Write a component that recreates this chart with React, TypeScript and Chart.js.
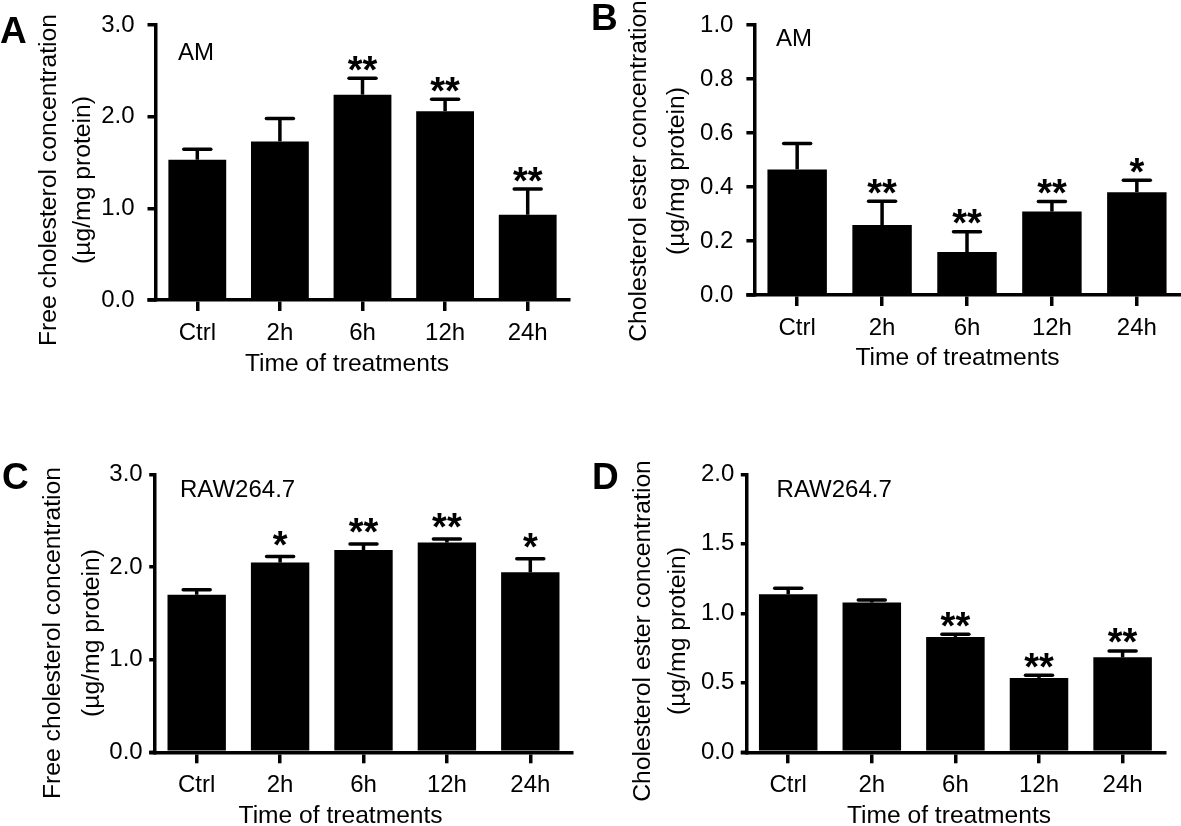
import React, { useEffect, useRef } from "react";
import { Chart, registerables } from "chart.js";

Chart.register(...registerables);

const FONT = '"Liberation Sans", Arial, Helvetica, sans-serif';

// ---------------- data ----------------
const categories = ["Ctrl", "2h", "6h", "12h", "24h"];
const xTitle = "Time of treatments";

const freeAM = [1.53, 1.73, 2.24, 2.06, 0.93];
const freeAMSem = [0.115, 0.25, 0.18, 0.13, 0.28];
const freeAMStars = ["", "", "**", "**", "**"];

const esterAM = [0.465, 0.259, 0.159, 0.309, 0.381];
const esterAMSem = [0.096, 0.088, 0.075, 0.037, 0.044];
const esterAMStars = ["", "**", "**", "**", "*"];

const freeRAW = [1.7, 2.047, 2.183, 2.263, 1.942];
const freeRAWSem = [0.054, 0.065, 0.065, 0.039, 0.148];
const freeRAWStars = ["", "*", "**", "**", "*"];

const esterRAW = [1.137, 1.077, 0.83, 0.535, 0.683];
const esterRAWSem = [0.043, 0.019, 0.019, 0.019, 0.046];
const esterRAWStars = ["", "", "**", "**", "**"];

const yTicksFree = [0, 1, 2, 3];
const yTicksEsterAM = [0, 0.2, 0.4, 0.6, 0.8, 1.0];
const yTicksEsterRAW = [0, 0.5, 1.0, 1.5, 2.0];

const yTitleFree = ["Free cholesterol concentration", "(µg/mg protein)"];
const yTitleEster = ["Cholesterol ester concentration", "(µg/mg protein)"];

// ---------------- layout (styles only) ----------------
type PanelCfg = {
  letter: string;
  inset: string;
  values: number[];
  sem: number[];
  stars: string[];
  ticks: number[];
  yTitle: string[];
  x: number;
  y: number;
  w: number;
  h: number;
  area: { l: number; t: number; r: number; b: number };
  yTickLen: number;
  yTickPad: number;
  letterPos: [number, number];
  insetPos: [number, number];
  yTitleX: [number, number];
  yTitleY: number;
  xTitlePos: [number, number];
  starGap: number;
};

const panels: PanelCfg[] = [
  {
    letter: "A", inset: "AM", values: freeAM, sem: freeAMSem, stars: freeAMStars,
    ticks: yTicksFree, yTitle: yTitleFree,
    x: 0, y: 0, w: 590, h: 420,
    area: { l: 156, t: 24, r: 569, b: 300 },
    yTickLen: 8.5, yTickPad: 13,
    letterPos: [0, 43], insetPos: [178, 60],
    yTitleX: [49, 83.4], yTitleY: 180, xTitlePos: [347, 364], starGap: 15,
  },
  {
    letter: "B", inset: "AM", values: esterAM, sem: esterAMSem, stars: esterAMStars,
    ticks: yTicksEsterAM, yTitle: yTitleEster,
    x: 590, y: 0, w: 591, h: 420,
    area: { l: 164.7, t: 12.3, r: 589.3, b: 295 },
    yTickLen: 8.3, yTickPad: 13,
    letterPos: [1, 30], insetPos: [186, 46],
    yTitleX: [49, 86.7], yTitleY: 171, xTitlePos: [367.5, 358], starGap: 15,
  },
  {
    letter: "C", inset: "RAW264.7", values: freeRAW, sem: freeRAWSem, stars: freeRAWStars,
    ticks: yTicksFree, yTitle: yTitleFree,
    x: 0, y: 420, w: 590, h: 406,
    area: { l: 155, t: 54.3, r: 572, b: 332.3 },
    yTickLen: 5.8, yTickPad: 6.5,
    letterPos: [2, 69], insetPos: [180, 77],
    yTitleX: [53.6, 91.8], yTitleY: 213, xTitlePos: [340.6, 396.7], starGap: 18,
  },
  {
    letter: "D", inset: "RAW264.7", values: esterRAW, sem: esterRAWSem, stars: esterRAWStars,
    ticks: yTicksEsterRAW, yTitle: yTitleEster,
    x: 590, y: 420, w: 591, h: 406,
    area: { l: 156.4, t: 54.3, r: 574.4, b: 332.3 },
    yTickLen: 5.6, yTickPad: 6.5,
    letterPos: [2, 69], insetPos: [186.6, 77],
    yTitleX: [52.8, 88.6], yTitleY: 211, xTitlePos: [359, 396.7], starGap: 15,
  },
];

const LW = 3.5;

function overlayPlugin(p: PanelCfg) {
  return {
    id: "overlay" + p.letter,
    afterDraw(chart: any) {
      const ctx: CanvasRenderingContext2D = chart.ctx;
      const ys = chart.scales.y;
      const area = chart.chartArea;
      const meta = chart.getDatasetMeta(0);
      ctx.save();
      ctx.fillStyle = "#000";
      ctx.strokeStyle = "#000";
      ctx.lineWidth = LW;

      // x-axis extension to the left of the y axis
      ctx.lineCap = "butt";
      ctx.beginPath();
      ctx.moveTo(area.left - p.yTickLen, area.bottom);
      ctx.lineTo(area.left, area.bottom);
      ctx.stroke();

      // error bars + significance stars
      meta.data.forEach((bar: any, i: number) => {
        const x = bar.x;
        const y0 = ys.getPixelForValue(p.values[i]);
        const y1 = ys.getPixelForValue(p.values[i] + p.sem[i]);
        ctx.lineCap = "butt";
        ctx.beginPath();
        ctx.moveTo(x, y0);
        ctx.lineTo(x, y1);
        ctx.stroke();
        ctx.lineCap = "round";
        ctx.beginPath();
        ctx.moveTo(x - 13.5, y1);
        ctx.lineTo(x + 13.5, y1);
        ctx.stroke();
        if (p.stars[i]) {
          ctx.font = `bold 38px ${FONT}`;
          ctx.textAlign = "center";
          ctx.textBaseline = "alphabetic";
          const m = ctx.measureText(p.stars[i]);
          const asc = m.actualBoundingBoxAscent;
          const desc = m.actualBoundingBoxDescent;
          const cy = y1 - p.starGap;
          const base = cy + (asc - desc) / 2;
          ctx.fillText(p.stars[i], x, base);
        }
      });

      // panel letter
      ctx.font = `bold 37px ${FONT}`;
      ctx.textAlign = "left";
      ctx.textBaseline = "alphabetic";
      ctx.fillText(p.letter, p.letterPos[0], p.letterPos[1]);

      // inset label
      ctx.font = `24px ${FONT}`;
      ctx.fillText(p.inset, p.insetPos[0], p.insetPos[1]);

      // x title
      ctx.font = `24.6px ${FONT}`;
      ctx.textAlign = "center";
      ctx.textBaseline = "middle";
      ctx.fillText(xTitle, p.xTitlePos[0], p.xTitlePos[1]);

      // y title (two lines, rotated)
      p.yTitle.forEach((line, k) => {
        ctx.save();
        ctx.translate(p.yTitleX[k], p.yTitleY);
        ctx.rotate(-Math.PI / 2);
        ctx.font = `24.7px ${FONT}`;
        ctx.textAlign = "center";
        ctx.textBaseline = "middle";
        ctx.fillText(line, 0, 0);
        ctx.restore();
      });
      ctx.restore();
    },
  };
}

function Panel({ p }: { p: PanelCfg }) {
  const ref = useRef<HTMLCanvasElement>(null);
  useEffect(() => {
    if (!ref.current) return;
    const chart = new Chart(ref.current, {
      type: "bar",
      data: {
        labels: categories,
        datasets: [
          {
            data: p.values,
            backgroundColor: "#000",
            borderWidth: 0,
            barPercentage: 0.7,
            categoryPercentage: 1,
          },
        ],
      },
      options: {
        responsive: false,
        animation: false,
        devicePixelRatio: 1,
        layout: { padding: { left: 0, top: p.area.t, right: p.w - p.area.r, bottom: 0 } },
        plugins: {
          legend: { display: false },
          tooltip: { enabled: false },
          title: { display: false },
        },
        scales: {
          x: {
            type: "category",
            offset: true,
            grid: {
              display: true,
              offset: false,
              drawOnChartArea: false,
              drawTicks: true,
              tickLength: 11,
              tickWidth: LW,
              lineWidth: LW,
              color: "#000",
            },
            border: { display: true, color: "#000", width: LW },
            ticks: {
              color: "#000",
              font: { family: FONT, size: 24, lineHeight: 1 },
              padding: 10,
              maxRotation: 0,
              autoSkip: false,
            },
            afterFit: (s: any) => {
              s.height = p.h - p.area.b;
            },
          },
          y: {
            min: p.ticks[0],
            max: p.ticks[p.ticks.length - 1],
            afterBuildTicks: (s: any) => {
              s.ticks = p.ticks.map((v) => ({ value: v }));
            },
            grid: {
              display: true,
              drawOnChartArea: false,
              drawTicks: true,
              tickLength: p.yTickLen,
              tickWidth: LW,
              lineWidth: LW,
              color: "#000",
            },
            border: { display: true, color: "#000", width: LW },
            ticks: {
              color: "#000",
              font: { family: FONT, size: 24, lineHeight: 1 },
              padding: p.yTickPad,
              callback: (v: any) => Number(v).toFixed(1),
            },
            afterFit: (s: any) => {
              s.width = p.area.l;
            },
          },
        },
      } as any,
      plugins: [overlayPlugin(p)],
    });
    return () => chart.destroy();
  }, [p]);
  return (
    <canvas
      ref={ref}
      width={p.w}
      height={p.h}
      style={{ position: "absolute", left: p.x, top: p.y, width: p.w, height: p.h }}
    />
  );
}

export default function App() {
  return (
    <div
      style={{
        position: "fixed",
        left: 0,
        top: 0,
        width: 1181,
        height: 826,
        background: "#fff",
        overflow: "hidden",
      }}
    >
      {panels.map((p) => (
        <Panel key={p.letter} p={p} />
      ))}
    </div>
  );
}
